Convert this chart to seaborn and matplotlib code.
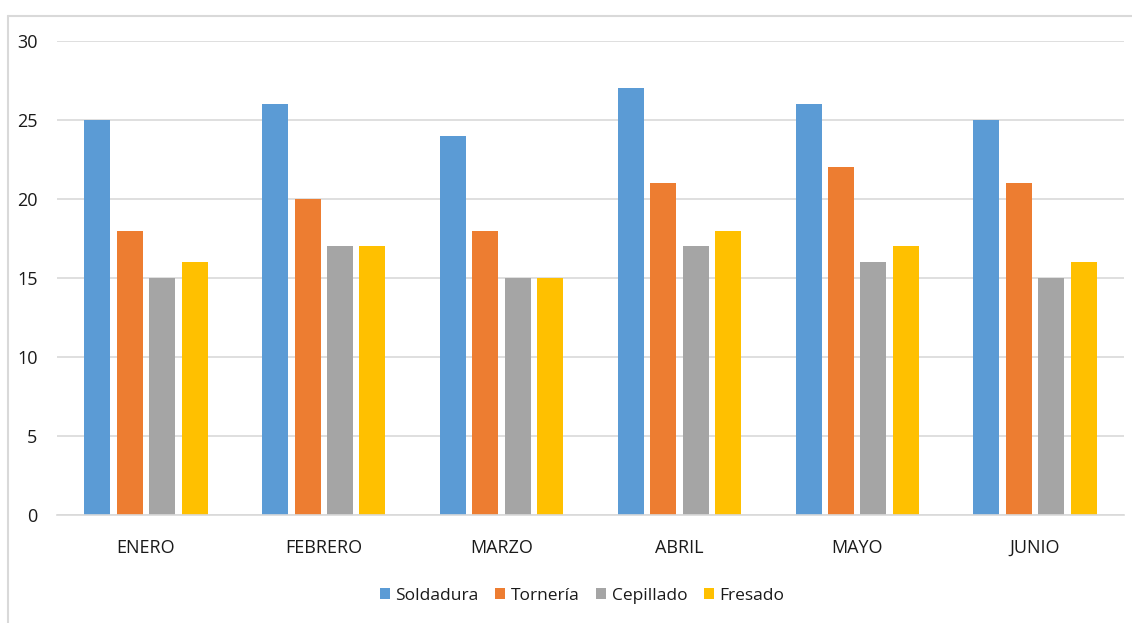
import matplotlib
matplotlib.use("Agg")
import matplotlib.pyplot as plt
from matplotlib.lines import Line2D
import seaborn as sns
import pandas as pd

meses = ["ENERO", "FEBRERO", "MARZO", "ABRIL", "MAYO", "JUNIO"]
procesos = ["Soldadura", "Tornería", "Cepillado", "Fresado"]
soldadura = [25, 26, 24, 27, 26, 25]
torneria = [18, 20, 18, 21, 22, 21]
cepillado = [15, 17, 15, 17, 16, 15]
fresado = [16, 17, 15, 18, 17, 16]
colores = ["#5B9BD5", "#ED7D31", "#A5A5A5", "#FFC000"]

series = [soldadura, torneria, cepillado, fresado]
df = pd.DataFrame(
    [(m, p, v[i]) for p, v in zip(procesos, series) for i, m in enumerate(meses)],
    columns=["mes", "proceso", "valor"],
)

sns.set_theme(style="white")
plt.rcParams["font.family"] = ["Open Sans", "DejaVu Sans"]

fig = plt.figure(figsize=(11.32, 6.23), dpi=100)
ax = fig.add_axes([57 / 1132, 1 - 515 / 623, (1124 - 57) / 1132, (515 - 41) / 623])

sns.barplot(
    data=df, x="mes", y="valor", hue="proceso", order=meses, hue_order=procesos,
    palette=colores, width=0.73, gap=0.2, ax=ax, saturation=1, legend=True,
    linewidth=0, edgecolor="none",
)

ax.set_ylim(0, 30)
ax.set_xlim(-0.5, 5.5)
ax.set_yticks(range(0, 31, 5))
ax.yaxis.grid(True, color="#D9D9D9", linewidth=1.2)
ax.set_axisbelow(True)
for s in ["top", "right", "left"]:
    ax.spines[s].set_visible(False)
ax.spines["bottom"].set_color("#D9D9D9")
ax.spines["bottom"].set_linewidth(1.2)
ax.set_xlabel("")
ax.set_ylabel("")
ax.tick_params(axis="y", length=0, pad=14, labelsize=13, labelcolor="#1a1a1a")
ax.tick_params(axis="x", length=0, pad=17, labelsize=13, labelcolor="#1a1a1a")

ax.legend(
    loc="upper center", bbox_to_anchor=(0.492, -0.12), ncol=4, frameon=False,
    fontsize=12.5, handlelength=0.6, handleheight=0.6, handletextpad=0.3,
    columnspacing=0.95, labelcolor="#1a1a1a",
)

# chart frame
fig.add_artist(Line2D([8 / 1132, 1], [1 - 16 / 623] * 2, color="#D9D9D9", lw=1.5))
fig.add_artist(Line2D([8 / 1132] * 2, [0, 1 - 16 / 623], color="#D9D9D9", lw=1.5))

fig.savefig("out.png", dpi=100)
